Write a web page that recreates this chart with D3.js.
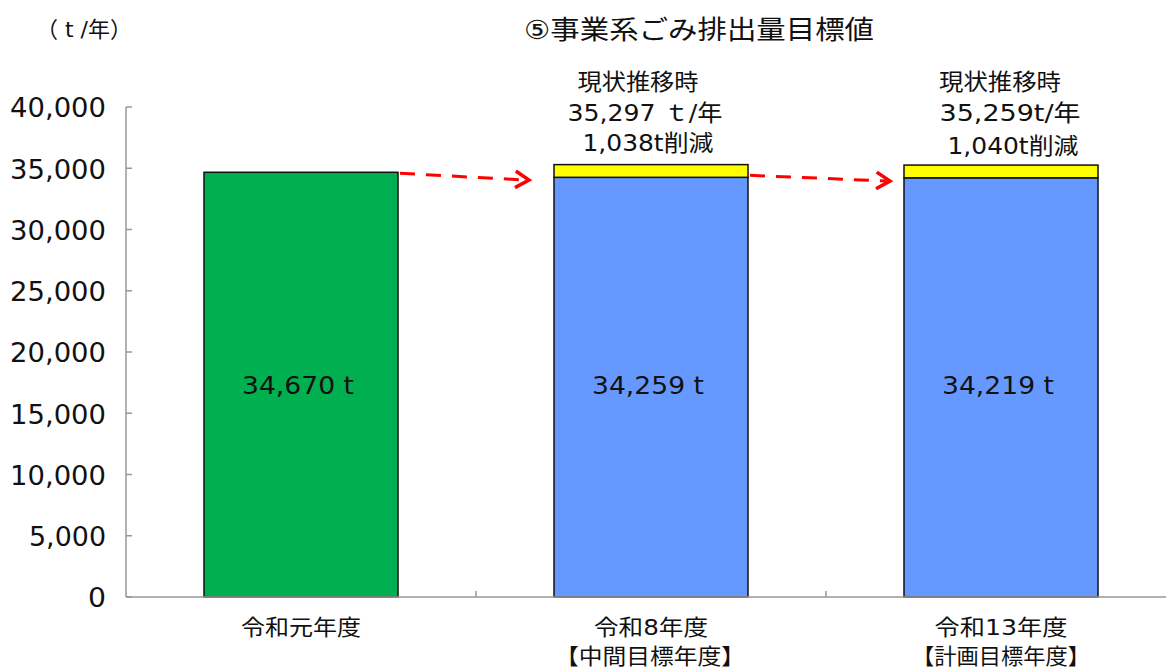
<!DOCTYPE html>
<html><head><meta charset="utf-8">
<script src="https://cdn.jsdelivr.net/npm/d3@7"></script>
<style>body{margin:0;background:#fff;} text{font-family:"DejaVu Sans","Noto Sans CJK JP",sans-serif;fill:#111;}</style>
</head><body><svg id="c" width="1166" height="669"></svg>
<script>
const categories = ["令和元年度", "令和8年度", "令和13年度"];
const subLabels = ["", "【中間目標年度】", "【計画目標年度】"];
const baseValues = [34670, 34259, 34219];
const reductionValues = [0, 1038, 1040];
const baseLabels = ["34,670 t", "34,259 t", "34,219 t"];
const annotLines = [null, ["現状推移時", "35,297 ｔ/年", "1,038t削減"], ["現状推移時", "35,259t/年", "1,040t削減"]];
const yTicks = [0, 5000, 10000, 15000, 20000, 25000, 30000, 35000, 40000];
const baseColors = ["#00b050", "#6699ff", "#6699ff"];
const reductionColor = "#ffff00";

const svg = d3.select("#c");
const x = d3.scaleBand().domain(categories).range([126, 1176]).paddingInner(0).paddingOuter(0);
const y = d3.scaleLinear().domain([0, 40000]).range([597, 107]);
const bw = 194;
const cx = c => x(c) + x.bandwidth() / 2;

function txt(px, py, s, size, w, anchor) {
  const t = svg.append("text").attr("x", px).attr("y", py).attr("dy", "0.36em")
    .attr("text-anchor", anchor || "middle").attr("font-size", size).text(s);
  if (w) t.attr("textLength", w).attr("lengthAdjust", "spacingAndGlyphs");
  return t;
}

// title and unit
txt(699, 30, "⑤事業系ごみ排出量目標値", 26, 350);
txt(36, 29, "（ t /年）", 22, null, "start");

// y axis
svg.append("line").attr("x1", 126).attr("x2", 126).attr("y1", y(40000)).attr("y2", y(0)).attr("stroke", "#999").attr("stroke-width", 1.5);
yTicks.forEach(t => {
  svg.append("line").attr("x1", 126).attr("x2", 132).attr("y1", y(t)).attr("y2", y(t)).attr("stroke", "#999").attr("stroke-width", 1.5);
  const s = d3.format(",")(t);
  const w = s.length === 1 ? 18 : s.length === 5 ? 77 : 96;
  txt(106, y(t) + 1, s, 26, w, "end");
});

// bars
const annotPos = [[[82, 121], [113, 155], [143, 131]], [[82, 122], [113, 141], [146, 131]]];
const annotDx = [[-13, -6, -3], [-1, 9, 12]];
categories.forEach((c, i) => {
  svg.append("rect").attr("x", cx(c) - bw / 2).attr("y", y(baseValues[i])).attr("width", bw)
    .attr("height", y(0) - y(baseValues[i])).attr("fill", baseColors[i]).attr("stroke", "#111").attr("stroke-width", 1.5);
  if (reductionValues[i] > 0) {
    const top = baseValues[i] + reductionValues[i];
    svg.append("rect").attr("x", cx(c) - bw / 2).attr("y", y(top)).attr("width", bw)
      .attr("height", y(baseValues[i]) - y(top)).attr("fill", reductionColor).attr("stroke", "#111").attr("stroke-width", 1.5);
  }
  txt(cx(c) - 3, 385, baseLabels[i], 24, 112);
  const catW = [120, 114, 133][i];
  txt(cx(c), 627, categories[i], 22, catW);
  if (subLabels[i]) txt(cx(c) + [0, -1, 0][i], 656, subLabels[i], 22, [0, 190, 178][i]);
  if (annotLines[i]) {
    annotLines[i].forEach((t, k) => {
      const p = annotPos[i - 1][k];
      txt(cx(c) + annotDx[i - 1][k], p[0], t, 23, p[1]);
    });
  }
});

// x axis
svg.append("line").attr("x1", 126).attr("x2", 1166).attr("y1", y(0)).attr("y2", y(0)).attr("stroke", "#999").attr("stroke-width", 1.5);
[1, 2].forEach(i => {
  const xx = x(categories[i]);
  svg.append("line").attr("x1", xx).attr("x2", xx).attr("y1", y(0)).attr("y2", y(0) - 6).attr("stroke", "#999").attr("stroke-width", 1.5);
});

// arrows
function arrow(x1, y1, x2, y2) {
  svg.append("line").attr("x1", x1).attr("y1", y1).attr("x2", x2 - 4).attr("y2", y2)
    .attr("stroke", "#ff0000").attr("stroke-width", 3).attr("stroke-dasharray", "15,11");
  const ang = Math.atan2(y2 - y1, x2 - x1);
  const L = 16, W = 0.55;
  const p1 = [x2 - L * Math.cos(ang - W), y2 - L * Math.sin(ang - W)];
  const p2 = [x2 - L * Math.cos(ang + W), y2 - L * Math.sin(ang + W)];
  svg.append("path").attr("d", `M${p1}L${x2},${y2}L${p2}`).attr("fill", "none").attr("stroke", "#ff0000").attr("stroke-width", 3.5);
}
arrow(cx(categories[0]) + bw / 2 + 2, y(baseValues[0]) + 1, x(categories[1]) + 78 - 25, 180);
arrow(cx(categories[1]) + bw / 2 + 2, y(baseValues[1]) - 2, x(categories[2]) + 78 - 14, 181);
</script></body></html>
